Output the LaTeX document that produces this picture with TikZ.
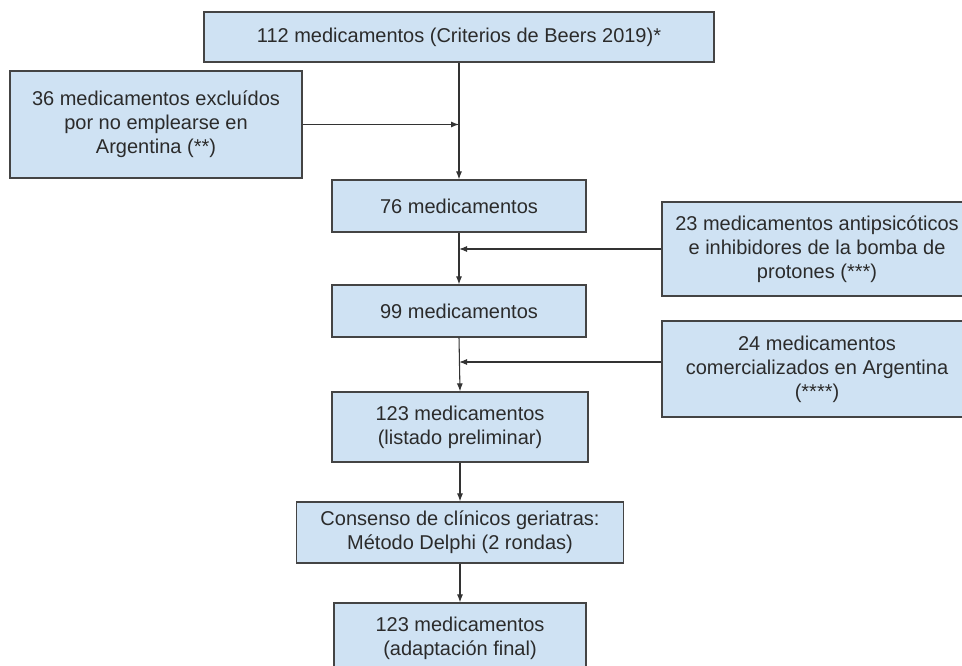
\documentclass[tikz,border=0pt]{standalone}
\usepackage{fontspec}
\setmainfont{Liberation Sans}
\usetikzlibrary{arrows.meta,calc}
\definecolor{boxfill}{HTML}{CFE2F3}
\definecolor{boxline}{HTML}{444444}
\definecolor{txt}{HTML}{2B2B2B}
\definecolor{lnk}{HTML}{333333}
\begin{document}
\begin{tikzpicture}[x=0.75pt,y=-0.75pt,
  box/.style={draw=boxline,line width=0.9pt,fill=boxfill,text=txt,align=center,
    inner sep=0pt,font=\fontsize{15pt}{18pt}\selectfont},
  link/.style={draw=lnk,line width=0.8pt,-{Latex[length=6pt,width=4.5pt]}}]
\useasboundingbox (0,0) rectangle (962,666);
\clip (0,0) rectangle (962,666);
\fill[white] (0,0) rectangle (962,666);
\node[box,minimum width=382.5pt,minimum height=37.5pt] (top) at (459,37)
  {112 medicamentos (Criterios de Beers 2019)*};
\node[box,minimum width=219pt,minimum height=80.25pt] (left) at (156,124.5)
  {36 medicamentos excluídos\\por no emplearse en\\Argentina (**)};
\node[box,minimum width=190.5pt,minimum height=39pt] (b76) at (459,206)
  {76 medicamentos};
\node[box,minimum width=232.5pt,minimum height=70.5pt] (r1) at (817,249)
  {23 medicamentos antipsicóticos\\e inhibidores de la bomba de\\protones (***)};
\node[box,minimum width=190.5pt,minimum height=39pt] (b99) at (459,311)
  {99 medicamentos};
\node[box,minimum width=232.5pt,minimum height=72pt] (r2) at (817,369)
  {24 medicamentos\\comercializados en Argentina\\(****)};
\node[box,minimum width=192pt,minimum height=52.5pt] (b123) at (460,427)
  {123 medicamentos\\(listado preliminar)};
\node[box,minimum width=245.25pt,minimum height=45.75pt] (cons) at (460,532.5)
  {Consenso de clínicos geriatras:\\Método Delphi (2 rondas)};
\node[box,minimum width=189pt,minimum height=53.25pt] (fin) at (460,638.5)
  {123 medicamentos\\(adaptación final)};
\draw[link] (top.south) -- (b76.north);
\draw[link] (left.east) -- (left.east -| top.south);
\draw[link] (b76.south) -- (b99.north);
\draw[link] (r1.west) -- (r1.west -| b76.south);
\draw[link] (b99.south) -- (b123.north);
\coordinate (r2a) at ($(r2.west)+(0,-7)$);
\draw[link] (r2a) -- (r2a -| b99.south);
\draw[link] (b123.south) -- (cons.north);
\draw[link] (cons.south) -- (fin.north);
\end{tikzpicture}
\end{document}
